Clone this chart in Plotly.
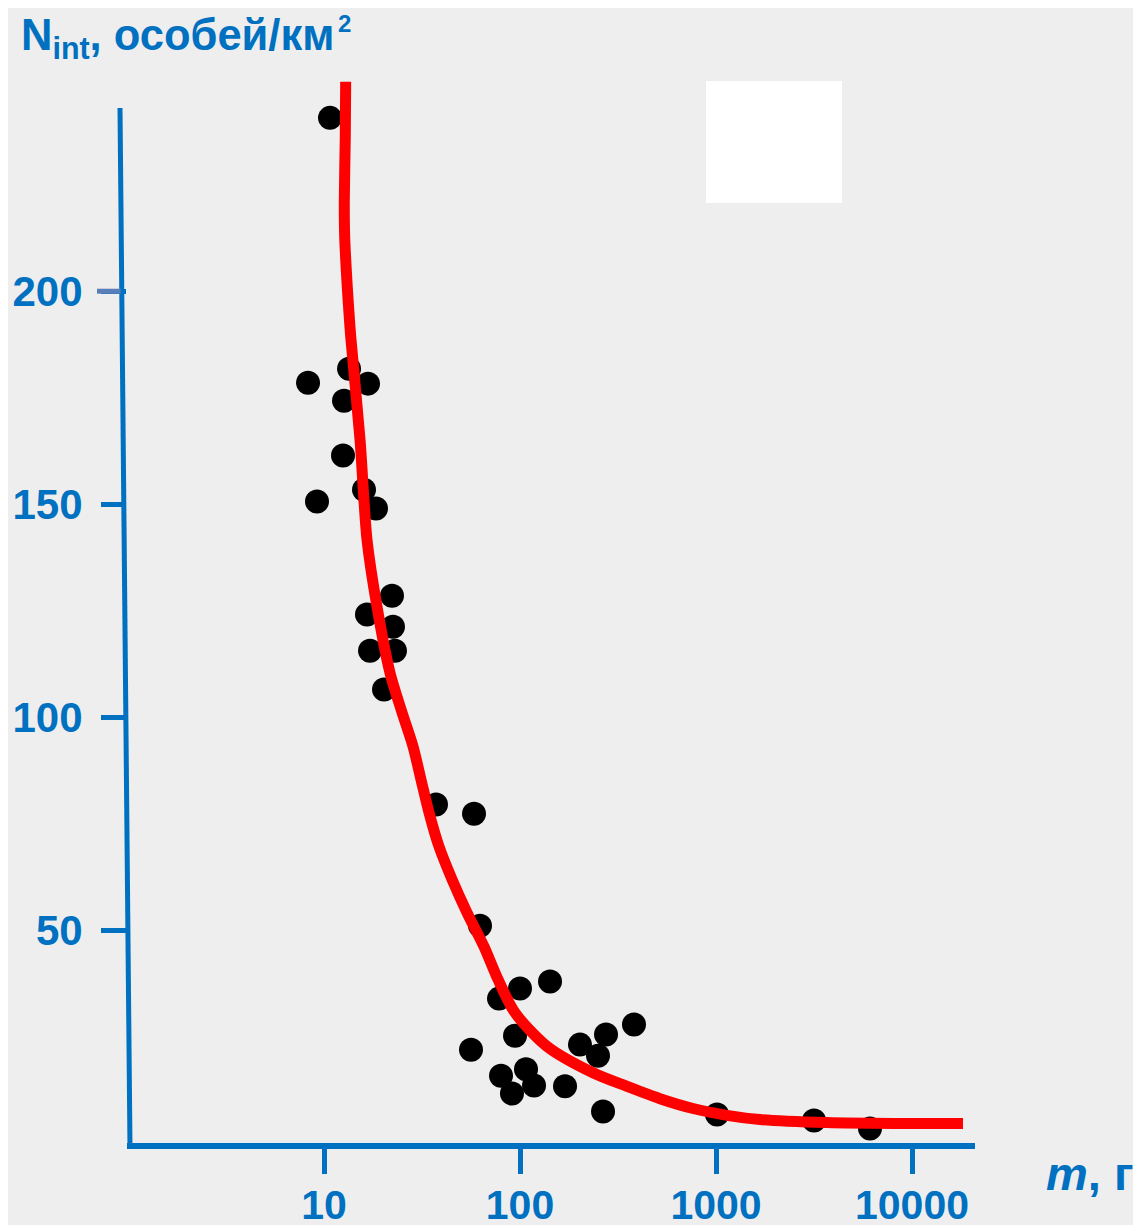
import plotly.graph_objects as go

# Observed points: body mass m (g) and density N_int (individuals / km^2)
mass_g = [10.73, 8.29, 13.42, 16.77, 12.65, 12.50, 9.21, 16.00, 18.42, 22.23, 16.57, 22.49,
          17.17, 23.02, 20.24, 37.27, 58.26, 62.51, 142.3, 100.0, 78.14, 381.5, 274.7, 94.3,
          202.3, 250.0, 56.23, 80.0, 107.3, 117.9, 91.0, 169.7, 265.2, 1012, 3162, 6105]
density = [240.7, 178.5, 181.8, 178.3, 174.3, 161.4, 150.6, 153.4, 149.0, 128.5, 124.1, 121.2,
           115.6, 115.6, 106.5, 79.5, 77.3, 51.0, 37.9, 36.3, 33.9, 27.8, 25.5, 25.2,
           23.1, 20.5, 21.9, 15.8, 17.3, 13.5, 11.6, 13.3, 7.4, 6.7, 5.3, 3.4]

# Fitted curve
curve_mass_g = [12.90, 12.84, 12.69, 12.75, 12.99, 13.30, 13.69, 15.27, 16.57, 18.64, 21.71,
                25.00, 28.46, 31.26, 34.33, 38.61, 44.99, 53.64, 65.52, 77.23, 94.30, 137.3,
                235.7, 351.5, 518.0, 763.3, 1138, 1677, 3684, 8000, 18200]
curve_density = [249.2, 236.3, 220.8, 212.8, 205.0, 197.3, 189.3, 165.1, 141.7, 125.9, 110.4,
                 101.1, 93.1, 85.3, 77.6, 69.6, 61.9, 54.1, 46.1, 38.4, 30.6, 22.7,
                 16.5, 13.3, 10.4, 8.1, 6.5, 5.5, 4.8, 4.6, 4.6]

x_tick_vals = [10, 100, 1000, 10000]
x_tick_text = ["10", "100", "1000", "10000"]
y_tick_vals = [50, 100, 150, 200]
y_tick_text = ["50", "100", "150", "200"]

BLUE = "#0070C0"
TICK200 = "#5a7fb8"
BG = "#eeeeee"
FONT = "Liberation Sans, Arial, sans-serif"

fig = go.Figure()
fig.add_trace(go.Scatter(
    x=mass_g, y=density, mode="markers",
    marker=dict(color="black", size=24, line=dict(width=0)),
    showlegend=False, hoverinfo="x+y"))
fig.add_trace(go.Scatter(
    x=curve_mass_g, y=curve_density, mode="lines",
    line=dict(color="#ff0000", width=11, shape="spline", smoothing=0.8),
    showlegend=False, hoverinfo="skip"))

fig.update_layout(
    width=1141, height=1225, autosize=False,
    margin=dict(l=119, r=174, t=66, b=89.5, pad=0),
    paper_bgcolor=BG, plot_bgcolor=BG,
    font=dict(family=FONT, color=BLUE),
    xaxis=dict(type="log", range=[-0.0051, 4.3214], automargin=False,
               showline=True, linecolor=BLUE, linewidth=6,
               ticks="outside", ticklen=25, tickwidth=5, tickcolor=BLUE,
               tickvals=x_tick_vals, ticktext=x_tick_text,
               ticklabelstandoff=-4,
               tickfont=dict(size=41, color=BLUE, family=FONT, weight="bold"),
               showgrid=False, zeroline=False),
    yaxis=dict(range=[0, 251], automargin=False,
               showline=False,
               ticks="outside", ticklen=25, tickwidth=5, tickcolor=BLUE,
               tickvals=y_tick_vals, ticktext=y_tick_text,
               ticklabelstandoff=10,
               tickfont=dict(size=42, color=BLUE, family=FONT, weight="bold"),
               showgrid=False, zeroline=False),
    shapes=[
        # slightly slanted hand-drawn y axis line
        dict(type="line", xref="paper", yref="y",
             x0=-0.00825, y0=243, x1=0.0035, y1=-0.6,
             line=dict(color=BLUE, width=5)),
        # the 200 tick is drawn in a greyer blue
        dict(type="line", xref="paper", yref="y",
             x0=-0.0354, y0=200, x1=-0.0075, y1=200,
             line=dict(color=TICK200, width=5), layer="above"),
        # white box in upper right
        dict(type="rect", xref="paper", yref="paper",
             x0=0.6828, x1=0.8432, y0=0.8793, y1=0.99345,
             fillcolor="white", line=dict(width=0), layer="above"),
    ],
    annotations=[
        dict(xref="paper", yref="paper", x=-0.1274, y=1.0605,
             xanchor="left", yanchor="top", showarrow=False,
             text="N<sub>int</sub>, особей/км",
             font=dict(size=43.5, color=BLUE, family=FONT, weight="bold")),
        dict(xref="paper", yref="paper", x=0.2465, y=1.062,
             xanchor="left", yanchor="top", showarrow=False,
             text="2",
             font=dict(size=24, color=BLUE, family=FONT, weight="bold")),
        dict(xref="paper", yref="paper", x=1.0814, y=-0.0285,
             xanchor="left", yanchor="middle", showarrow=False,
             text="<i>m</i>, г",
             font=dict(size=47, color=BLUE, family=FONT, weight="bold")),
    ],
)

fig.write_html("out.html")
